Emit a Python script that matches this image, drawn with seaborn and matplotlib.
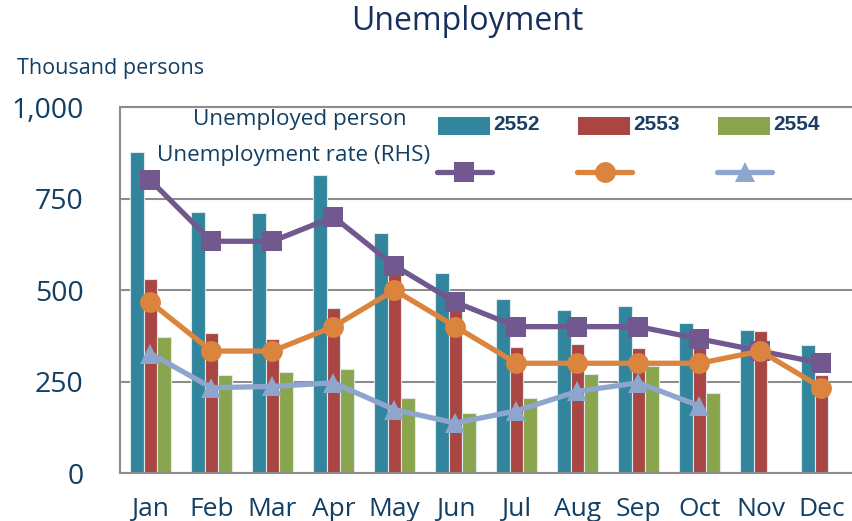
import numpy as np
import pandas as pd
import matplotlib
matplotlib.use("Agg")
import matplotlib.pyplot as plt
import seaborn as sns
from matplotlib.patches import Rectangle
from matplotlib.lines import Line2D
from matplotlib.ticker import FuncFormatter

months = ["Jan", "Feb", "Mar", "Apr", "May", "Jun", "Jul", "Aug", "Sep", "Oct", "Nov", "Dec"]
years = ["2552", "2553", "2554"]

# Unemployed persons (thousand)
persons_2552 = [877, 714, 710, 815, 655, 546, 475, 445, 457, 410, 391, 350]
persons_2553 = [529, 383, 366, 450, 550, 460, 345, 352, 343, 360, 389, 268]
persons_2554 = [373, 267, 276, 284, 204, 163, 206, 270, 292, 219, np.nan, np.nan]

# Unemployment rate (%) – right hand scale
rate_2552 = [2.4, 1.9, 1.9, 2.1, 1.7, 1.4, 1.2, 1.2, 1.2, 1.1, 1.0, 0.9]
rate_2553 = [1.4, 1.0, 1.0, 1.2, 1.5, 1.2, 0.9, 0.9, 0.9, 0.9, 1.0, 0.7]
rate_2554 = [0.98, 0.70, 0.71, 0.74, 0.52, 0.41, 0.51, 0.67, 0.74, 0.55, np.nan, np.nan]

bar_colors = ["#31859C", "#A94643", "#89A54E"]
line_colors = ["#71588F", "#DB843D", "#8EA6CE"]
line_markers = ["s", "o", "^"]
text_color = "#123F63"
grid_color = "#8C8C8C"

df = pd.DataFrame({
    "month": months * 3,
    "year": sum([[y] * 12 for y in years], []),
    "persons": persons_2552 + persons_2553 + persons_2554,
})

sns.set_theme(style="white")
plt.rcParams["font.family"] = ["Open Sans", "DejaVu Sans"]

fig = plt.figure(figsize=(8.52, 5.21), dpi=100)
ax = fig.add_axes([0.1408, 0.092, 0.8592, 0.7025])

sns.barplot(data=df, x="month", y="persons", hue="year", order=months, hue_order=years,
            palette=bar_colors, width=0.66, gap=0, ax=ax, legend=False,
            edgecolor="#dce8ec", linewidth=0.8, saturation=1, zorder=2)

ax.set_xlim(-0.5, 11.5)
ax.set_ylim(0, 1000)
ax.set_yticks([0, 250, 500, 750, 1000])
ax.yaxis.set_major_formatter(FuncFormatter(lambda v, p: f"{int(v):,}"))
ax.yaxis.grid(True, color=grid_color, linewidth=1.5, zorder=0)
ax.set_axisbelow(True)
ax.set_xlabel("")
ax.set_ylabel("")
ax.set_xticks(np.arange(12))
ax.set_xticklabels(months)
ax.set_xticks(np.arange(-0.5, 12, 1), minor=True)
ax.tick_params(axis="x", which="major", length=0, pad=17, labelsize=19, labelcolor=text_color)
ax.tick_params(axis="x", which="minor", length=12, width=1.3, color=grid_color, direction="out")
ax.tick_params(axis="y", length=0, pad=26, labelsize=20.5, labelcolor=text_color)
for s in ["left", "bottom", "top"]:
    ax.spines[s].set_visible(True)
    ax.spines[s].set_color(grid_color)
    ax.spines[s].set_linewidth(1.5)
ax.spines["right"].set_visible(False)

ax2 = ax.twinx()
ax2.set_ylim(0, 3.0)
rates = [rate_2552, rate_2553, rate_2554]
for r, c, m in zip(rates, line_colors, line_markers):
    sns.lineplot(x=np.arange(12), y=r, ax=ax2, color=c, linewidth=3.8, marker=m,
                 markersize=15, markeredgewidth=0, legend=False)
ax2.set_yticks([])
ax2.set_ylabel("")
for s in ax2.spines.values():
    s.set_visible(False)
ax2.set_xlim(-0.5, 11.5)

# Legend drawn manually
leg_fs = 16.2
ax2.text(0.0997, 0.967, "Unemployed person", transform=ax.transAxes, fontsize=leg_fs,
         color=text_color, va="center", ha="left", zorder=10)
ax2.text(0.0505, 0.869, "Unemployment rate (RHS)", transform=ax.transAxes, fontsize=leg_fs,
         color=text_color, va="center", ha="left", zorder=10)
patch_x = [0.434, 0.6257, 0.817]
for px, c, y in zip(patch_x, bar_colors, years):
    ax2.add_patch(Rectangle((px, 0.9235), 0.071, 0.049, transform=ax.transAxes,
                            facecolor=c, edgecolor="none", zorder=10, clip_on=False))
    ax2.text(px + 0.0756, 0.951, y, transform=ax.transAxes, fontsize=15, fontweight="bold",
             family=["Liberation Sans Narrow", "Liberation Sans"], color="#1B3F64",
             va="center", ha="left", zorder=10)
for px, c, m in zip(patch_x, line_colors, line_markers):
    ax2.add_line(Line2D([px - 0.001, px + 0.074], [0.822, 0.822], transform=ax.transAxes,
                        color=c, linewidth=3.8, solid_capstyle="round", zorder=10))
    ax2.add_line(Line2D([px + 0.0365], [0.822], transform=ax.transAxes, color=c, marker=m,
                        markersize=15, markeredgewidth=0, zorder=11))

fig.text(0.549, 0.958, "Unemployment", fontsize=23, color="#17305E", ha="center", va="center")
fig.text(0.02, 0.869, "Thousand persons", fontsize=15.5, color=text_color, ha="left", va="center")

fig.savefig("out.png", dpi=100)
